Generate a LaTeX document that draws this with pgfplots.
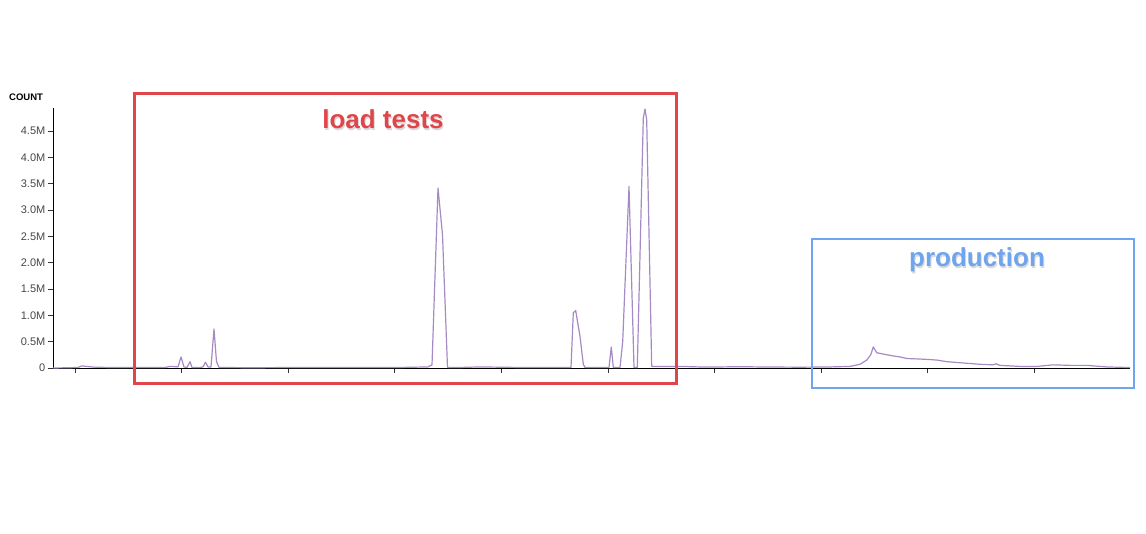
\documentclass[border=0pt]{standalone}
\usepackage{pgfplots}
\pgfplotsset{compat=1.18}
\usepackage{fontspec}
\setmainfont{Liberation Sans}
\definecolor{linepurple}{RGB}{166,138,196}
\definecolor{boxred}{RGB}{224,69,74}
\definecolor{boxblue}{RGB}{111,164,238}
\definecolor{ticklab}{RGB}{70,70,70}
\begin{document}
\begin{tikzpicture}
\path[use as bounding box] (0,0) rectangle (1146pt,534pt);
\begin{axis}[
  at={(53pt,166pt)}, anchor=south west,
  scale only axis, width=1077pt, height=260pt,
  xmin=53, xmax=1130, ymin=0, ymax=4.94,
  axis x line*=bottom, axis y line*=left,
  axis line style={-, black, line width=0.8pt},
  xtick={75,181.6,288.2,394.8,501.4,608,714.6,821.2,927.8,1034.4},
  xticklabels={},
  ytick={0,0.5,1,1.5,2,2.5,3,3.5,4,4.5},
  yticklabels={0,0.5M,1.0M,1.5M,2.0M,2.5M,3.0M,3.5M,4.0M,4.5M},
  tick align=outside, major tick length=5pt,
  tick style={black!80, line width=0.8pt},
  yticklabel style={font=\fontsize{11}{13}\selectfont, text=ticklab, inner sep=2.5pt},
  clip=false,
]
\addplot[linepurple, line width=1.2pt, line join=round] coordinates {
(53,0) (70,0.005) (78,0.01) (82,0.04) (86,0.03) (95,0.015) (110,0.01) (140,0.008)
(165,0.01) (170,0.03) (175,0.025) (178,0.02) (181,0.21) (184,0.02) (187,0.01) (190,0.12)
(192,0.01) (200,0.01) (203,0.02) (205.5,0.11) (208,0.02) (211,0.02) (214,0.74) (216.5,0.12)
(219,0.01) (250,0.005) (300,0.01) (350,0.01) (400,0.01) (428,0.02) (432,0.06) (438,3.42)
(442.5,2.53) (447.5,0.01) (460,0.01) (480,0.02) (500,0.015) (520,0.01) (545,0.01) (571,0.01)
(573.3,1.05) (575.7,1.09) (580,0.6) (583.3,0.07) (585,0.01) (609,0.01) (611.3,0.4) (613.3,0.01)
(620,0.01) (622.7,0.5) (629,3.45) (634,0.01) (637.3,0.01) (643.3,4.75) (645,4.92) (646.7,4.71)
(651.7,0.03) (680,0.03) (700,0.02) (720,0.02) (740,0.025) (760,0.02) (800,0.015) (830,0.02)
(850,0.03) (860,0.07) (866.7,0.15) (870.7,0.25) (873.3,0.4) (876.7,0.29) (881.7,0.27) (893,0.23)
(900,0.21) (907,0.18) (920,0.17) (930,0.16) (937,0.15) (947,0.12) (960,0.1) (967,0.09)
(980,0.07) (993,0.06) (996,0.08) (1000,0.05) (1020,0.03) (1037,0.03) (1053,0.06) (1070,0.05)
(1087,0.05) (1100,0.03) (1107,0.02) (1127,0.01) (1130,0.01)
};
\end{axis}
\node[anchor=west, inner sep=0pt, font=\fontsize{9.5}{11}\selectfont\bfseries] at (9pt,437pt) {COUNT};
\draw[boxred, line width=3pt] (134pt,440pt) rectangle (676pt,150pt);
\draw[boxblue, line width=2.5pt] (812pt,295pt) rectangle (1134pt,146pt);
\node[text=black!25, opacity=0.6, font=\fontsize{26}{30}\selectfont\bfseries] at (384pt,413pt) {load tests};
\node[text=boxred, font=\fontsize{26}{30}\selectfont\bfseries] at (383pt,415pt) {load tests};
\node[text=black!25, opacity=0.6, font=\fontsize{26}{30}\selectfont\bfseries] at (978pt,272pt) {production};
\node[text=boxblue, font=\fontsize{26}{30}\selectfont\bfseries] at (977pt,274pt) {production};
\end{tikzpicture}
\end{document}
